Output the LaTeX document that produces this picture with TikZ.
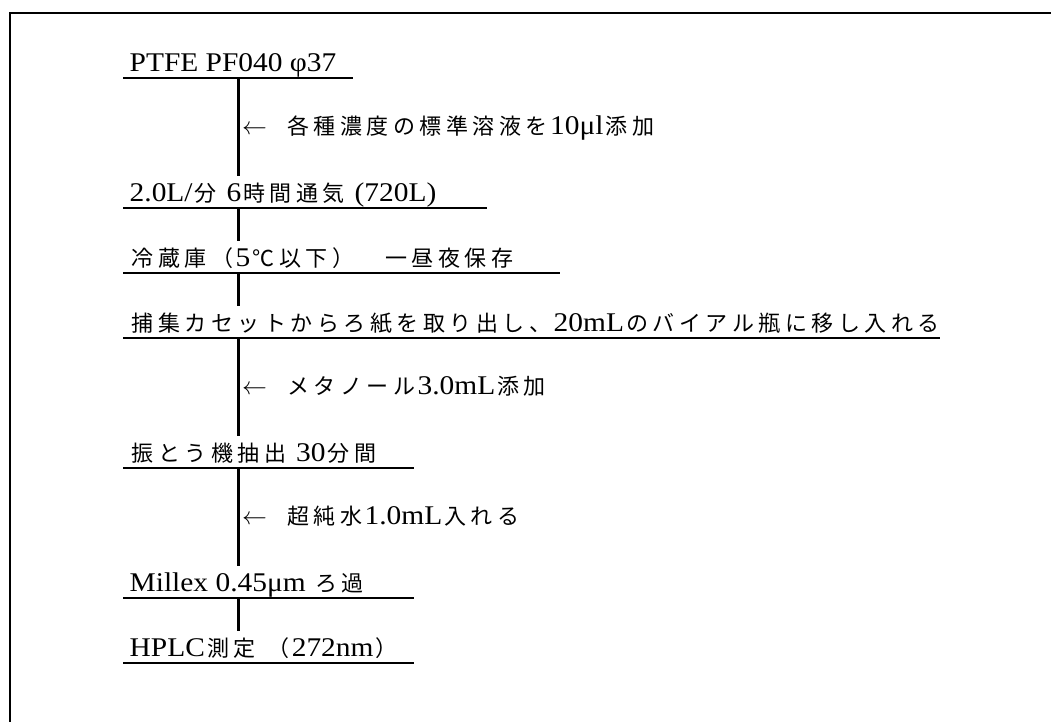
\documentclass[tikz,border=0pt]{standalone}
\usepackage{fontspec}
\setmainfont{Liberation Serif}[FakeStretch=1.09]
\newfontfamily\cjkfont{Noto Sans CJK JP}
\usetikzlibrary{calc}
\newlength\jpw \setlength\jpw{26.5pt}
\makeatletter
\def\jp#1{{\cjkfont\fontsize{22}{26}\selectfont\jp@a#1\@nil}}
\def\jp@a#1{\ifx\@nil#1\else\makebox[\jpw][c]{#1}\expandafter\jp@a\fi}
\makeatother
\newcommand\larr{{\fontsize{26}{28}\selectfont$\leftarrow$}\hspace{18pt}}
\tikzset{
  frame/.style={line width=2.4pt},
  uline/.style={line width=2.6pt},
  conn/.style={line width=3pt},
  stepbox/.style={inner xsep=0pt, inner ysep=0pt, text height=26pt, text depth=6pt,
    anchor=south west, font=\fontsize{27}{32}\selectfont},
  lab/.style={inner sep=0pt, anchor=west, text height=19pt, text depth=3pt,
    font=\fontsize{27}{32}\selectfont}
}
\begin{document}
\begin{tikzpicture}[x=1pt, y=-1pt]
\useasboundingbox (0,0) rectangle (1051,722);
\draw[frame] (1051,13) -- (10,13) -- (10,722);
\coordinate (vx) at (238,0);

\node[stepbox] (s1) at (123,78) {\makebox[230pt][l]{\hspace{6.5pt}PTFE PF040 φ37}};
\node[stepbox] (s2) at (123,208) {\makebox[364pt][l]{\hspace{6.5pt}2.0L/\jp{分} 6\jp{時間通気} (720L)}};
\node[stepbox] (s3) at (123,273) {\makebox[437pt][l]{\hspace{6.5pt}\jp{冷蔵庫（}5\jp{℃以下）　一昼夜保存}}};
\node[stepbox] (s4) at (123,338) {\makebox[817pt][l]{\hspace{6.5pt}\jp{捕集カセットからろ紙を取り出し、}20mL\jp{のバイアル瓶に移し入れる}}};
\node[stepbox] (s5) at (123,468) {\makebox[291pt][l]{\hspace{6.5pt}\jp{振とう機抽出} 30\jp{分間}}};
\node[stepbox] (s6) at (123,598) {\makebox[291pt][l]{\hspace{6.5pt}Millex 0.45μm \jp{ろ過}}};
\node[stepbox] (s7) at (123,663) {\makebox[291pt][l]{\hspace{6.5pt}HPLC\jp{測定} \jp{（}272nm\jp{）}}};

\foreach \s in {s1,s2,s3,s4,s5,s6,s7}
  \draw[uline] (\s.south west) -- (\s.south east);

\draw[conn] (s1.south -| vx) -- (s2.north -| vx);
\draw[conn] (s2.south -| vx) -- (s3.north -| vx);
\draw[conn] (s3.south -| vx) -- (s4.north -| vx);
\draw[conn] (s4.south -| vx) -- (s5.north -| vx);
\draw[conn] (s5.south -| vx) -- (s6.north -| vx);
\draw[conn] (s6.south -| vx) -- (s7.north -| vx);

\node[lab] (l1) at ($(s1.south -| vx)!0.5!(s2.north -| vx) + (4pt,0)$)
  {\larr\jp{各種濃度の標準溶液を}10μl\jp{添加}};
\node[lab] (l2) at ($(s4.south -| vx)!0.5!(s5.north -| vx) + (4pt,0)$)
  {\larr\jp{メタノール}3.0mL\jp{添加}};
\node[lab] (l3) at ($(s5.south -| vx)!0.5!(s6.north -| vx) + (4pt,0)$)
  {\larr\jp{超純水}1.0mL\jp{入れる}};
\end{tikzpicture}
\end{document}
